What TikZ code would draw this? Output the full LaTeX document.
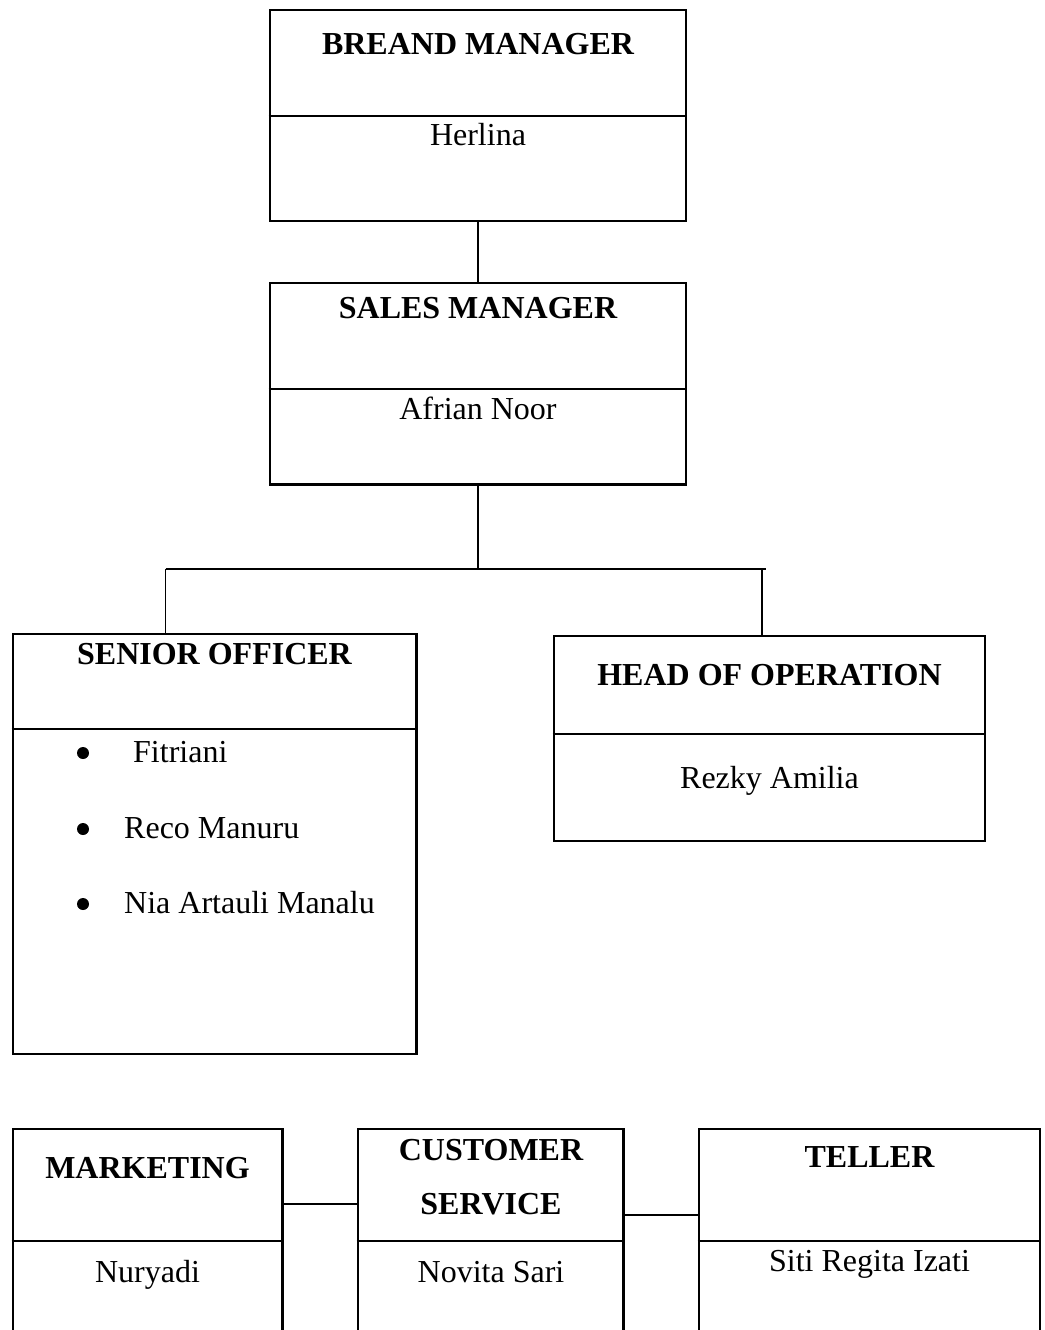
\documentclass[tikz,border=0pt]{standalone}
\usepackage{fontspec}
\setmainfont{Liberation Serif}
\usepackage{tikz}
\usetikzlibrary{positioning}
\tikzset{
    %Define style for boxes
    unit/.style={
           rectangle,
           draw=black,
           line width=2.8pt,
           inner sep=0pt},
    %Define style for box titles
    head/.style={
           anchor=base,
           inner sep=0pt,
           font=\fontsize{32}{38}\selectfont\bfseries},
    %Define style for names
    staff/.style={
           anchor=base,
           inner sep=0pt,
           font=\fontsize{32}{38}\selectfont},
    %Define style for list bullets
    dot/.style={
           circle,
           fill=black,
           inner sep=0pt,
           minimum size=12pt},
    % Define line style
    conn/.style={
           line width=1.8pt},
    divide/.style={
           line width=2.8pt}
}
\begin{document}
\begin{tikzpicture}[x=1pt,y=-1pt]
\useasboundingbox (0,0) rectangle (1044,1330);
\clip (0,0) rectangle (1044,1330);
 %boxes
\node[unit, minimum width=416pt, minimum height=211pt](bm) at (478,115.5){};
\node[unit, minimum width=416pt, minimum height=201.5pt](sm) at (478,383.75){};
\node[unit, minimum width=403.5pt, minimum height=420pt](so) at (214.75,844){};
\node[unit, minimum width=431pt, minimum height=205pt](ho) at (769.5,738.5){};
\node[unit, minimum width=269.5pt, minimum height=231pt](mk) at (147.75,1244.5){};
\node[unit, minimum width=265.5pt, minimum height=231pt](cs) at (490.75,1244.5){};
\node[unit, minimum width=341pt, minimum height=231pt](tl) at (869.5,1244.5){};
 %dividers
\foreach \b/\d in {bm/116, sm/389, so/729, ho/734, mk/1241, cs/1241, tl/1241}
    \draw[divide] (\b.west |- 0,\d) -- (\b.east |- 0,\d);
 %texts
\node[head](bm-t) at (478,55){BREAND MANAGER};
\node[staff](bm-n) at (478,145){Herlina};
\node[head](sm-t) at (478,318){SALES MANAGER};
\node[staff](sm-n) at (478,419){Afrian Noor};
\node[head](so-t) at (214.5,664){SENIOR OFFICER};
\foreach \i/\y/\x/\n in {1/762/133/Fitriani, 2/838/124/Reco Manuru, 3/913/124/Nia Artauli Manalu}{
    \node[dot](so-b\i) at (83,\y-9){};
    \node[staff, anchor=base west](so-n\i) at (\x,\y){\n};
}
\node[head](ho-t) at (769.5,685){HEAD OF OPERATION};
\node[staff](ho-n) at (769.5,788){Rezky Amilia};
\node[head](mk-t) at (147.5,1178){MARKETING};
\node[staff](mk-n) at (147.5,1282){Nuryadi};
\node[head](cs-t1) at (491,1160){CUSTOMER};
\node[head](cs-t2) at (491,1214){SERVICE};
\node[staff](cs-n) at (491,1282){Novita Sari};
\node[head](tl-t) at (869.5,1167){TELLER};
\node[staff](tl-n) at (869.5,1271){Siti Regita Izati};
 %connectors
\coordinate (busl) at (165.5,569);
\coordinate (busr) at (765.5,569);
\coordinate (br) at (762,569);
\draw[conn] (bm.south) -- (sm.north);
\draw[conn] (sm.south) -- (sm.south |- busl);
\draw[conn] (busl) -- (busr);
\draw[conn] (busl) -- (busl |- so.north);
\draw[conn] (br) -- (br |- ho.north);
\draw[conn] (mk.east |- 0,1204) -- (cs.west |- 0,1204);
\draw[conn] (cs.east |- 0,1215) -- (tl.west |- 0,1215);
\end{tikzpicture}
\end{document}
